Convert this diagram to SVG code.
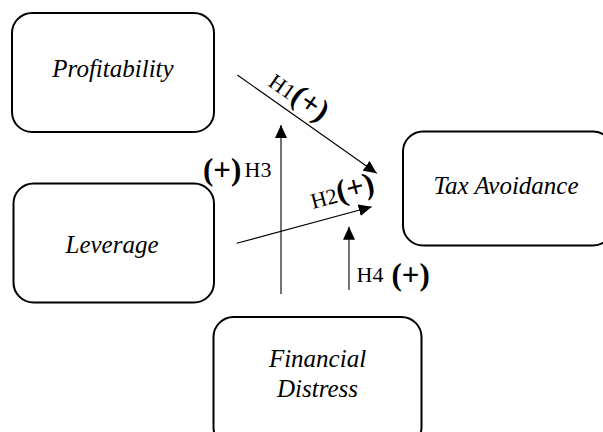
<svg xmlns="http://www.w3.org/2000/svg" width="603" height="432" viewBox="0 0 603 432">
<style>
.box{fill:#fff;stroke:#000;stroke-width:2}
.c{stroke:#000;stroke-width:1.1;fill:none;marker-end:url(#ah)}
</style>
<defs>
<marker id="ah" markerUnits="userSpaceOnUse" markerWidth="14" markerHeight="12" viewBox="0 0 14 12" refX="13" refY="6" orient="auto">
<path d="M0,0 L13,6 L0,12 Z" fill="#000"/>
</marker>
</defs>
<rect width="603" height="432" fill="#fff"/>
<g id="profitability">
<rect class="box" x="12" y="13" width="202" height="119" rx="20"/>
<text x="113" y="77" font-family="Liberation Serif" font-size="25" font-style="italic" text-anchor="middle">Profitability</text>
</g>
<g id="leverage">
<rect class="box" x="13.5" y="183.5" width="200.5" height="119" rx="20"/>
<text x="112" y="253" font-family="Liberation Serif" font-size="25" font-style="italic" text-anchor="middle">Leverage</text>
</g>
<g id="tax-avoidance">
<rect class="box" x="403" y="131.5" width="210" height="114" rx="20"/>
<text x="506" y="194" font-family="Liberation Serif" font-size="25" font-style="italic" text-anchor="middle">Tax Avoidance</text>
</g>
<g id="financial-distress">
<rect class="box" x="213.5" y="317" width="208" height="130" rx="20"/>
<text x="317.5" y="367" font-family="Liberation Serif" font-size="25" font-style="italic" text-anchor="middle">Financial</text>
<text x="317.5" y="397" font-family="Liberation Serif" font-size="25" font-style="italic" text-anchor="middle">Distress</text>
</g>
<g id="connectors">
<line class="c" x1="237.3" y1="75" x2="376.7" y2="173.3"/>
<line class="c" x1="236.7" y1="243.3" x2="371.7" y2="206.7"/>
<line class="c" x1="281" y1="294" x2="281" y2="125"/>
<line class="c" x1="349" y1="290" x2="349" y2="226.7"/>
</g>
<g id="labels">
<text transform="translate(267,85) rotate(35)" font-family="Liberation Serif"><tspan font-size="22">H1</tspan><tspan font-size="31" font-weight="bold">(+)</tspan></text>
<text transform="translate(313,209) rotate(-15)" font-family="Liberation Serif"><tspan font-size="22">H2</tspan><tspan font-size="31" font-weight="bold">(+)</tspan></text>
<text x="203" y="180" font-family="Liberation Serif" font-size="31" font-weight="bold">(+)</text>
<text x="244.5" y="177" font-family="Liberation Serif" font-size="22">H3</text>
<text x="356.5" y="282" font-family="Liberation Serif" font-size="22">H4</text>
<text x="391.5" y="285" font-family="Liberation Serif" font-size="31" font-weight="bold">(+)</text>
</g>
</svg>
